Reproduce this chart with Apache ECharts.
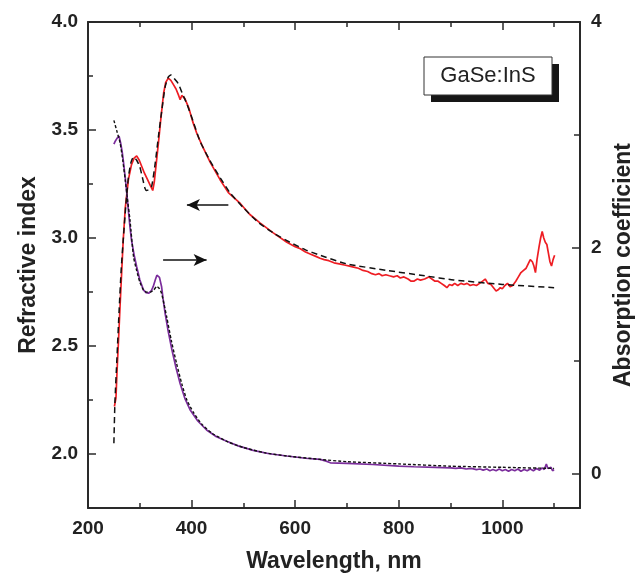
<!DOCTYPE html>
<html>
<head>
<meta charset="utf-8">
<script src="https://cdn.jsdelivr.net/npm/echarts@6/dist/echarts.min.js"></script>
<style>
html,body{margin:0;padding:0;background:#fff;}
#chart{width:635px;height:573px;}
</style>
</head>
<body>
<div id="chart"></div>
<script>
// Refractive index (measured), left axis
var nWl = [251,254,256,259,262,265,268,272,278,284,289,294,299,304,309,315,320,325,328,332,336,341,346,350,355,360,365,370,375,378,381,387,395,402,410,420,436,455,471,494,512,532,557,584,600,610,620,630,640,648,656,665,675,685,695,705,713,722,731,740,748,755,762,768,775,782,790,797,803,810,818,824,829,836,842,850,858,864,870,876,882,888,893,898,903,908,914,920,926,932,938,944,950,956,962,967,972,978,983,988,992,996,1000,1005,1010,1015,1020,1026,1031,1036,1041,1046,1050,1054,1058,1061,1064,1067,1071,1074,1077,1080,1083,1086,1089,1092,1095,1098,1101];
var nVal = [2.22,2.26,2.38,2.53,2.69,2.84,2.99,3.14,3.27,3.34,3.37,3.38,3.36,3.33,3.30,3.27,3.245,3.22,3.26,3.35,3.44,3.56,3.67,3.72,3.74,3.73,3.71,3.69,3.66,3.64,3.66,3.645,3.60,3.54,3.485,3.43,3.35,3.27,3.21,3.16,3.11,3.07,3.025,2.98,2.96,2.95,2.935,2.925,2.915,2.906,2.90,2.895,2.885,2.88,2.875,2.87,2.865,2.86,2.85,2.845,2.835,2.83,2.835,2.825,2.83,2.825,2.82,2.825,2.815,2.82,2.81,2.80,2.80,2.81,2.805,2.81,2.82,2.81,2.80,2.80,2.79,2.78,2.77,2.785,2.78,2.79,2.78,2.79,2.785,2.79,2.78,2.785,2.78,2.79,2.80,2.81,2.79,2.785,2.77,2.755,2.76,2.77,2.765,2.78,2.79,2.775,2.78,2.80,2.82,2.84,2.85,2.86,2.88,2.90,2.89,2.87,2.84,2.90,2.96,3.00,3.03,3.00,2.98,2.97,2.93,2.89,2.87,2.90,2.92];

// Refractive index fit (dashed)
var nFitWl = [250,252,256,260,264,268,273,278,283,288,294,300,306,310,313,318,323,330,336,343,349,355,360,366,374,382,391,403,416,435,455,474,500,530,560,590,620,648,700,777,850,906,1000,1100];
var nFit = [2.05,2.24,2.45,2.66,2.85,2.99,3.15,3.28,3.35,3.375,3.36,3.33,3.27,3.23,3.22,3.225,3.24,3.35,3.47,3.60,3.70,3.745,3.755,3.74,3.716,3.67,3.62,3.54,3.45,3.36,3.28,3.21,3.14,3.07,3.02,2.98,2.945,2.92,2.88,2.85,2.825,2.806,2.785,2.77];

// Absorption coefficient (measured), right axis
var aWl = [250,252,256,260,263,266,268,272,275,278,281,284,289,294,300,307,312,317,322,326,330,333,335,338,342,345,349,355,362,370,378,387,397,412,429,448,468,490,519,550,584,620,648,660,668,700,750,800,829,870,900,910,920,930,940,950,957,963,970,976,982,988,994,1000,1006,1012,1018,1024,1030,1036,1042,1048,1054,1060,1066,1072,1077,1081,1085,1088,1091,1094,1097,1100];
var aVal = [2.92,2.94,2.97,2.99,2.93,2.85,2.78,2.62,2.48,2.33,2.19,2.07,1.94,1.835,1.72,1.63,1.605,1.60,1.62,1.66,1.72,1.76,1.77,1.74,1.66,1.55,1.42,1.26,1.10,0.94,0.80,0.67,0.57,0.47,0.39,0.33,0.29,0.25,0.21,0.18,0.16,0.14,0.13,0.115,0.10,0.095,0.085,0.07,0.065,0.06,0.055,0.05,0.055,0.045,0.05,0.04,0.045,0.035,0.045,0.03,0.04,0.03,0.045,0.03,0.04,0.025,0.04,0.03,0.045,0.025,0.04,0.03,0.045,0.03,0.05,0.035,0.055,0.04,0.09,0.05,0.035,0.06,0.03,0.04];

// Absorption fit (dotted)
var aFitWl = [250,256,262,267,272,276,281,288,294,300,307,313,320,327,333,338,342,347,352,361,371,381,391,403,420,440,470,500,540,584,648,700,800,900,1000,1100];
var aFit = [3.13,3.03,2.93,2.78,2.60,2.44,2.25,1.92,1.80,1.70,1.63,1.61,1.61,1.63,1.66,1.64,1.60,1.50,1.39,1.18,0.98,0.80,0.655,0.55,0.44,0.36,0.285,0.235,0.19,0.16,0.13,0.11,0.09,0.07,0.06,0.05];

// Annotation arrows (data coordinates)
var leftArrow = {from: [471, 3.153], to: [391, 3.153]};
var rightArrow = {from: [345, 1.894], to: [429, 1.894]};

var xTickLabels = [200, 400, 600, 800, 1000];
var nTickLabels = [2.0, 2.5, 3.0, 3.5, 4.0];
var aTickLabels = [0, 2, 4];

function zip(a, b) { return a.map(function (v, i) { return [v, b[i]]; }); }
function isIn(list, v) { return list.some(function (t) { return Math.abs(t - v) < 1e-6; }); }

var FONT = '"Liberation Sans", Arial, sans-serif';
var AX = '#2a2a2a';
var axisLineStyle = {color: AX, width: 2};

var chart = echarts.init(document.getElementById('chart'), null, {renderer: 'canvas'});
chart.setOption({
  animation: false,
  backgroundColor: '#ffffff',
  grid: {left: 88, right: 55, top: 22, bottom: 65, containLabel: false, outerBoundsMode: 'none'},
  xAxis: [{
    type: 'value', position: 'bottom', min: 200, max: 1150, splitNumber: 5,
    axisLine: {show: true, onZero: false, lineStyle: axisLineStyle},
    axisTick: {show: true, inside: true, length: 8, lineStyle: {color: AX, width: 1.5}},
    minorTick: {show: true, splitNumber: 2, length: 5, lineStyle: {color: AX, width: 1.5}},
    splitLine: {show: false},
    axisLabel: {
      margin: 11, color: '#222', fontFamily: FONT, fontWeight: 'bold', fontSize: 19,
      formatter: function (v) { return isIn(xTickLabels, v) ? String(Math.round(v)) : ''; }
    },
    name: 'Wavelength, nm', nameLocation: 'middle', nameGap: 42,
    nameTextStyle: {color: '#222', fontFamily: FONT, fontWeight: 'bold', fontSize: 23}
  }, {
    type: 'value', position: 'top', min: 200, max: 1150, splitNumber: 5,
    axisLine: {show: true, onZero: false, lineStyle: axisLineStyle},
    axisTick: {show: true, inside: true, length: 8, lineStyle: {color: AX, width: 1.5}},
    minorTick: {show: true, splitNumber: 2, length: 5, lineStyle: {color: AX, width: 1.5}},
    splitLine: {show: false},
    axisLabel: {show: false}
  }],
  yAxis: [{
    type: 'value', position: 'left', min: 1.75, max: 4.0, splitNumber: 5,
    axisLine: {show: true, onZero: false, lineStyle: axisLineStyle},
    axisTick: {show: true, inside: true, length: 8, lineStyle: {color: AX, width: 1.5}},
    minorTick: {show: true, splitNumber: 2, length: 5, lineStyle: {color: AX, width: 1.5}},
    splitLine: {show: false},
    axisLabel: {
      margin: 10, color: '#222', fontFamily: FONT, fontWeight: 'bold', fontSize: 19,
      formatter: function (v) { return isIn(nTickLabels, v) ? v.toFixed(1) : ''; }
    },
    name: 'Refractive index', nameLocation: 'middle', nameGap: 48,
    nameTextStyle: {color: '#222', fontFamily: FONT, fontWeight: 'bold', fontSize: 23}
  }, {
    type: 'value', position: 'right', min: -0.3, max: 4, splitNumber: 2,
    axisLine: {show: true, onZero: false, lineStyle: axisLineStyle},
    axisTick: {show: true, inside: true, length: 8, lineStyle: {color: AX, width: 1.5}},
    minorTick: {show: true, splitNumber: 2, length: 6, lineStyle: {color: AX, width: 1.5}},
    splitLine: {show: false},
    axisLabel: {
      margin: 11, color: '#222', fontFamily: FONT, fontWeight: 'bold', fontSize: 19,
      formatter: function (v) { return isIn(aTickLabels, v) ? String(Math.round(v)) : ''; }
    },
    name: 'Absorption coefficient', nameLocation: 'middle', nameGap: 28,
    nameTextStyle: {color: '#222', fontFamily: FONT, fontWeight: 'bold', fontSize: 23}
  }],
  graphic: [
    {type: 'rect', shape: {x: 431, y: 64, width: 128, height: 38}, style: {fill: '#161616'}, z: 10},
    {type: 'rect', shape: {x: 424, y: 57, width: 128, height: 38}, style: {fill: '#ffffff', stroke: '#333', lineWidth: 1}, z: 11},
    {type: 'text', x: 488, y: 76, z: 12, style: {text: 'GaSe:InS', fill: '#222', font: '22px "Liberation Sans", Arial, sans-serif', textAlign: 'center', textVerticalAlign: 'middle'}}
  ],
  series: [{
    name: 'n', type: 'line', xAxisIndex: 0, yAxisIndex: 0, data: zip(nWl, nVal),
    showSymbol: false, symbol: 'none', silent: true, z: 2,
    lineStyle: {color: '#ee1d23', width: 1.7},
    markLine: {
      silent: true, symbol: ['none', 'arrow'], symbolSize: [9, 13],
      label: {show: false}, lineStyle: {color: '#111', width: 1.5, type: 'solid'},
      data: [[{coord: leftArrow.from}, {coord: leftArrow.to}]]
    }
  }, {
    name: 'n fit', type: 'line', xAxisIndex: 0, yAxisIndex: 0, data: zip(nFitWl, nFit),
    showSymbol: false, symbol: 'none', silent: true, z: 3, smooth: 0.2,
    lineStyle: {color: '#111', width: 1.5, type: [6, 4]}
  }, {
    name: 'alpha', type: 'line', xAxisIndex: 0, yAxisIndex: 1, data: zip(aWl, aVal),
    showSymbol: false, symbol: 'none', silent: true, z: 2,
    lineStyle: {color: '#7b2d9c', width: 1.7},
    markLine: {
      silent: true, symbol: ['none', 'arrow'], symbolSize: [9, 13],
      label: {show: false}, lineStyle: {color: '#111', width: 1.5, type: 'solid'},
      data: [[{coord: rightArrow.from}, {coord: rightArrow.to}]]
    }
  }, {
    name: 'alpha fit', type: 'line', xAxisIndex: 0, yAxisIndex: 1, data: zip(aFitWl, aFit),
    showSymbol: false, symbol: 'none', silent: true, z: 3, smooth: 0.2,
    lineStyle: {color: '#111', width: 1.4, type: [3, 2]}
  }]
});
</script>
</body>
</html>
